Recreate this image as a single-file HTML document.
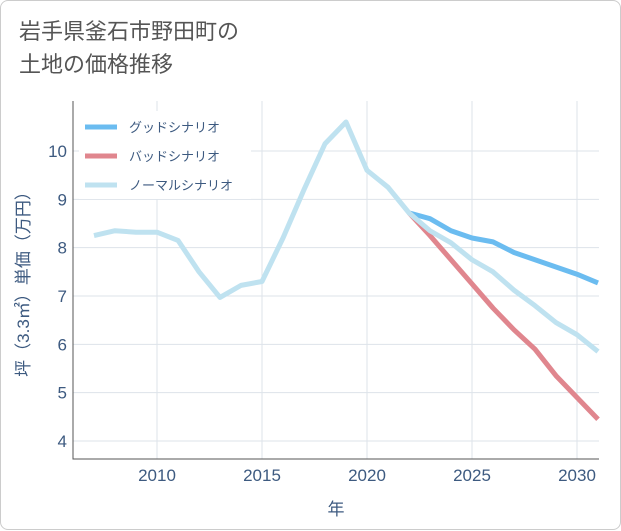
<!DOCTYPE html>
<html><head><meta charset="utf-8">
<style>
body{margin:0;background:#fff;font-family:"Liberation Sans","Noto Sans CJK JP",sans-serif;}
#card{position:absolute;left:0;top:0;width:619px;height:528px;border:1px solid #ccc;border-radius:8px;background:#fff;}
#title{position:absolute;left:18px;top:14px;font-size:22px;line-height:33px;color:#555;}
</style></head>
<body>
<div id="card">
<div id="title">岩手県釜石市野田町の<br>土地の価格推移</div>
<svg id="chart" width="621" height="530" style="position:absolute;left:0;top:0"></svg>
</div>
<script>
const years=[2007,2008,2009,2010,2011,2012,2013,2014,2015,2016,2017,2018,2019,2020,2021,2022,2023,2024,2025,2026,2027,2028,2029,2030,2031];
const normalVals=[8.25,8.35,8.32,8.32,8.15,7.5,6.97,7.22,7.3,8.2,9.2,10.15,10.6,9.6,9.25,8.72,8.35,8.1,7.75,7.5,7.12,6.8,6.45,6.2,5.85];
const goodYears=[2022,2023,2024,2025,2026,2027,2028,2029,2030,2031];
const goodVals=[8.72,8.6,8.35,8.2,8.12,7.9,7.75,7.6,7.45,7.27];
const badVals=[8.72,8.25,7.75,7.25,6.75,6.3,5.9,5.35,4.9,4.45];
const xTicks=[2010,2015,2020,2025,2030];
const yTicks=[4,5,6,7,8,9,10];
const seriesNames=["グッドシナリオ","バッドシナリオ","ノーマルシナリオ"];
const NS="http://www.w3.org/2000/svg";
const svg=document.getElementById('chart');
const L=72,R=598,T=100,B=458;
const x=v=>156+(v-2010)*21;
const y=v=>150+(10-v)*48.33;
function mk(tag,attrs){const e=document.createElementNS(NS,tag);for(const k in attrs)e.setAttribute(k,attrs[k]);svg.appendChild(e);return e;}
for(const t of yTicks){
 const g=mk('line',{x1:L,x2:R,y1:y(t),y2:y(t),stroke:'#dde3ea','stroke-width':1});
 
 
 const tx=mk('text',{x:L-6,y:y(t)+6,'text-anchor':'end','font-size':17,fill:'#3d5a80'});
 tx.textContent=t;
 
 
}
for(const t of xTicks){
 const g=mk('line',{x1:x(t),x2:x(t),y1:T,y2:B,stroke:'#dde3ea','stroke-width':1});
 
 
 const tx=mk('text',{x:x(t),y:B+22,'text-anchor':'middle','font-size':17,fill:'#3d5a80'});
 tx.textContent=t;
 
 
}
const ax=mk('path',{d:`M${L} ${T}V${B}H${R}`,stroke:'#555',fill:'none','stroke-width':1});


const xt=mk('text',{x:335,y:514,'text-anchor':'middle','font-size':17,fill:'#3d5a80'});
xt.textContent='年';


const yt=mk('text',{x:0,y:0,'text-anchor':'middle','font-size':17,fill:'#3d5a80',transform:`translate(28,${(T+B)/2}) rotate(-90)`});
yt.textContent='坪（3.3㎡）単価（万円）';


function line(xs,vs,color,name){
 const p=mk('polyline',{points:xs.map((t,i)=>x(t)+','+y(vs[i])).join(' '),fill:'none',stroke:color,'stroke-width':5,'stroke-linejoin':'round'});
 
 
}
line(goodYears,goodVals,'#6bbcf0','good-scenario-line');
line(goodYears,badVals,'#e0868e','bad-scenario-line');
line(years,normalVals,'#bfe2f0','normal-scenario-line');
const lb=mk('rect',{x:78,y:110,width:172,height:88,fill:'#fff'});


const lc=['#6bbcf0','#e0868e','#bfe2f0'];
seriesNames.forEach((n,i)=>{
 const yy=126+i*29;
 const s=mk('line',{x1:84,x2:116,y1:yy,y2:yy,stroke:lc[i],'stroke-width':5});
 
 
 const t=mk('text',{x:128,y:yy+5,'font-size':13,fill:'#3d5a80'});
 t.textContent=n;
 
 
});
</script>
</body></html>
